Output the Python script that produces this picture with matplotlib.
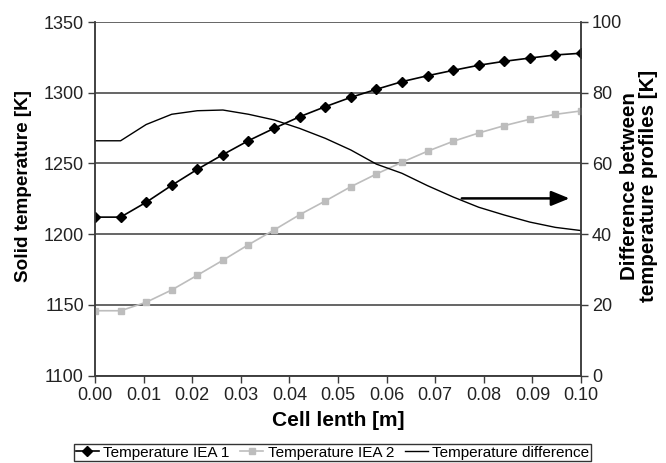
import numpy as np
import matplotlib
matplotlib.use("Agg")
import matplotlib.pyplot as plt

plt.rcParams['font.family'] = ['Liberation Sans', 'DejaVu Sans']

n_points = 20
cell_length = [i * 0.1 / 19 for i in range(n_points)]
temp_iea1 = [1212, 1212, 1222.5, 1234.5, 1245.8, 1256.2, 1266.1, 1274.8, 1283, 1290.1,
             1296.7, 1302.4, 1307.8, 1312, 1315.8, 1319.4, 1322.2, 1324.5, 1326.7, 1327.9]
temp_iea2 = [1145.8, 1145.8, 1151.8, 1160.5, 1170.9, 1181.5, 1192.5, 1202.9, 1213.7, 1223.4,
             1233.5, 1242.5, 1250.8, 1258.6, 1265.6, 1271.5, 1276.7, 1281.2, 1284.7, 1287.1]
temp_diff = [66.4, 66.4, 71.0, 73.9, 74.9, 75.1, 73.9, 72.3, 69.9, 67.1,
             63.8, 59.8, 57.2, 53.7, 50.5, 47.6, 45.4, 43.4, 41.9, 41.0]
xticks = [0.00, 0.01, 0.02, 0.03, 0.04, 0.05, 0.06, 0.07, 0.08, 0.09, 0.10]
yticks_left = [1100, 1150, 1200, 1250, 1300, 1350]
yticks_right = [0, 20, 40, 60, 80, 100]

edge = '#3c3c3c'
fig = plt.figure(figsize=(6.66, 4.63), dpi=100)
ax = fig.add_axes([95/666, 1 - 375.5/463, (581-95)/666, (375.5-22)/463])
ax2 = ax.twinx()

for y in yticks_left:
    ax.axhline(y, color=edge, lw=1.1, zorder=0)

l1, = ax.plot(cell_length, temp_iea1, color='black', marker='D', markersize=4.8, lw=1.2, zorder=3)
l2, = ax.plot(cell_length, temp_iea2, color='#bdbdbd', marker='s', markersize=4.6, lw=1.2, zorder=3)
l3, = ax2.plot(cell_length, temp_diff, color='black', lw=1.0)

ax.set_xlim(0, 0.1)
ax.set_ylim(1100, 1350)
ax2.set_ylim(0, 100)
ax.set_xticks(xticks)
ax.set_xticklabels([f"{v:.2f}" for v in xticks])
ax.set_yticks(yticks_left)
ax2.set_yticks(yticks_right)

for a in (ax, ax2):
    for s in a.spines.values():
        s.set_color(edge)
        s.set_linewidth(1.1)
    a.spines['top'].set_visible(False)
    a.tick_params(colors='#222222', labelsize=13, length=5, width=1.0, color=edge, pad=3)

ax2.annotate('', xy=(0.0982, 50.1), xytext=(0.0749, 50.1),
             arrowprops=dict(arrowstyle='-|>,head_length=1.1,head_width=0.45', color='black', lw=1.8))

ax.set_xlabel('Cell lenth [m]', fontsize=15, fontweight='bold', labelpad=5)
ax.set_ylabel('Solid temperature [K]', fontsize=13.6, fontweight='bold')
ax.yaxis.set_label_coords(-0.13, 0.536)
ax2.set_ylabel('Difference between\ntemperature profiles [K]', fontsize=14.8, fontweight='bold',
               linespacing=1.0)
ax2.yaxis.set_label_coords(1.08, 0.536)

leg = fig.legend([l1, l2, l3], ['Temperature IEA 1', 'Temperature IEA 2', 'Temperature difference'],
                 loc='center', bbox_to_anchor=(332.5/666, 1 - 452.5/463), ncol=3, fontsize=11,
                 frameon=True, fancybox=False, edgecolor='black', borderpad=0.12,
                 handlelength=1.5, handletextpad=0.3, columnspacing=0.7)
leg.get_frame().set_linewidth(1.0)

fig.savefig('out.png', dpi=100)
